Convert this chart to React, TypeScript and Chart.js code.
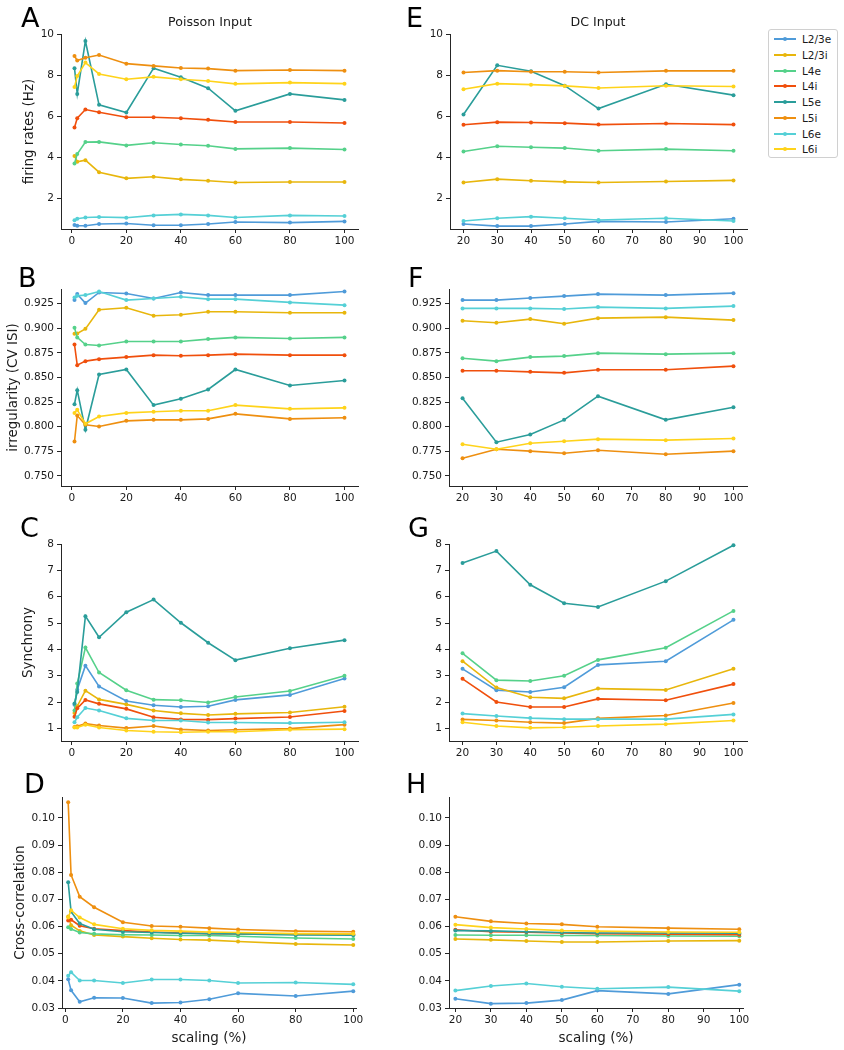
import React, { useEffect, useRef } from "react";
import { Chart, registerables } from "chart.js";

Chart.register(...registerables);
Chart.defaults.font.family = "'DejaVu Sans', sans-serif";

const POPULATIONS = ["L2/3e", "L2/3i", "L4e", "L4i", "L5e", "L5i", "L6e", "L6i"];
const COLORS = ["#4f9bd9", "#e8b60c", "#55d18a", "#f04f0c", "#2a9d9a", "#ee8f10", "#55d0d6", "#ffd31a"];

const SCALING_POISSON = [1, 2, 5, 10, 20, 30, 40, 50, 60, 80, 100];
const SCALING_DC = [20, 30, 40, 50, 60, 80, 100];

const X_TICKS_POISSON = [0, 20, 40, 60, 80, 100];
const X_TICKS_DC = [20, 30, 40, 50, 60, 70, 80, 90, 100];
const Y_TICKS_RATE = [2, 4, 6, 8, 10];
const Y_TICKS_CV = [0.75, 0.775, 0.8, 0.825, 0.85, 0.875, 0.9, 0.925];
const Y_TICKS_SYNC = [1, 2, 3, 4, 5, 6, 7, 8];
const Y_TICKS_CC = [0.03, 0.04, 0.05, 0.06, 0.07, 0.08, 0.09, 0.1];

// rows follow POPULATIONS order
const RATE_POISSON = [
  [0.72, 0.69, 0.69, 0.77, 0.8, 0.71, 0.71, 0.77, 0.87, 0.84, 0.9],
  [4.08, 3.79, 3.87, 3.29, 2.99, 3.07, 2.94, 2.87, 2.79, 2.81, 2.81],
  [3.71, 4.17, 4.75, 4.76, 4.59, 4.72, 4.63, 4.57, 4.42, 4.46, 4.39],
  [5.46, 5.91, 6.33, 6.2, 5.96, 5.96, 5.91, 5.83, 5.73, 5.73, 5.68],
  [8.34, 7.09, 9.66, 6.56, 6.19, 8.34, 7.9, 7.37, 6.27, 7.09, 6.8],
  [8.93, 8.71, 8.85, 8.98, 8.56, 8.45, 8.35, 8.32, 8.22, 8.25, 8.22],
  [0.95, 1.03, 1.09, 1.11, 1.08, 1.19, 1.24, 1.19, 1.09, 1.19, 1.16],
  [7.43, 7.96, 8.61, 8.06, 7.8, 7.92, 7.8, 7.72, 7.58, 7.64, 7.59],
];
const RATE_DC = [
  [0.77, 0.67, 0.67, 0.77, 0.9, 0.87, 1.03],
  [2.79, 2.95, 2.87, 2.82, 2.79, 2.84, 2.89],
  [4.29, 4.55, 4.5, 4.46, 4.33, 4.41, 4.33],
  [5.59, 5.72, 5.7, 5.67, 5.6, 5.65, 5.6],
  [6.09, 8.48, 8.19, 7.49, 6.38, 7.56, 7.03],
  [8.13, 8.22, 8.17, 8.17, 8.13, 8.21, 8.21],
  [0.92, 1.05, 1.13, 1.05, 0.97, 1.05, 0.92],
  [7.32, 7.59, 7.54, 7.48, 7.38, 7.49, 7.45],
];
const CV_POISSON = [
  [0.9287, 0.9348, 0.9257, 0.9365, 0.9355, 0.9304, 0.9365, 0.9338, 0.9338, 0.9338, 0.9375],
  [0.8945, 0.8948, 0.8995, 0.9189, 0.9209, 0.9128, 0.9138, 0.9169, 0.9169, 0.9158, 0.9158],
  [0.9006, 0.8908, 0.8836, 0.8826, 0.8867, 0.8867, 0.8867, 0.8891, 0.8908, 0.8897, 0.8908],
  [0.8836, 0.8626, 0.8667, 0.8687, 0.8708, 0.8728, 0.8721, 0.8728, 0.8738, 0.8728, 0.8728],
  [0.823, 0.8372, 0.7969, 0.8531, 0.8582, 0.822, 0.8284, 0.8379, 0.8582, 0.842, 0.847],
  [0.785, 0.8114, 0.802, 0.8003, 0.806, 0.807, 0.807, 0.808, 0.8131, 0.808, 0.8091],
  [0.9314, 0.9331, 0.9338, 0.9375, 0.9287, 0.9304, 0.9321, 0.9297, 0.9297, 0.9264, 0.9236],
  [0.8141, 0.8172, 0.803, 0.8104, 0.8141, 0.8152, 0.8162, 0.8162, 0.822, 0.8182, 0.8192],
];
const CV_DC = [
  [0.9287, 0.9287, 0.9308, 0.9328, 0.9348, 0.9338, 0.9358],
  [0.9077, 0.9057, 0.9094, 0.9047, 0.9104, 0.9114, 0.9084],
  [0.8697, 0.8667, 0.8708, 0.8718, 0.8748, 0.8738, 0.8748],
  [0.8569, 0.8569, 0.8558, 0.8548, 0.8579, 0.8579, 0.8616],
  [0.829, 0.7843, 0.7921, 0.807, 0.8311, 0.807, 0.8199],
  [0.768, 0.7772, 0.7752, 0.7731, 0.7762, 0.7721, 0.7752],
  [0.9203, 0.9203, 0.9203, 0.9196, 0.9216, 0.9203, 0.9226],
  [0.7823, 0.7772, 0.7833, 0.7853, 0.7874, 0.7864, 0.788],
];
const SYNC_POISSON = [
  [1.9, 2.47, 3.38, 2.59, 2.04, 1.88, 1.81, 1.84, 2.08, 2.27, 2.89],
  [1.58, 1.84, 2.43, 2.1, 1.91, 1.68, 1.57, 1.51, 1.55, 1.6, 1.82],
  [1.68, 2.7, 4.07, 3.12, 2.45, 2.09, 2.07, 1.98, 2.19, 2.42, 3.0],
  [1.44, 1.76, 2.08, 1.93, 1.74, 1.42, 1.34, 1.33, 1.37, 1.43, 1.66],
  [1.94, 2.38, 5.26, 4.46, 5.41, 5.89, 5.01, 4.25, 3.59, 4.04, 4.35],
  [1.05, 1.08, 1.18, 1.11, 1.01, 1.09, 0.96, 0.92, 0.95, 0.99, 1.14],
  [1.23, 1.42, 1.77, 1.68, 1.38, 1.3, 1.3, 1.22, 1.22, 1.2, 1.23],
  [1.03, 1.03, 1.14, 1.03, 0.92, 0.87, 0.85, 0.87, 0.87, 0.95, 0.97],
];
const SYNC_DC = [
  [3.26, 2.45, 2.38, 2.56, 3.41, 3.55, 5.12],
  [3.55, 2.55, 2.18, 2.14, 2.51, 2.46, 3.26],
  [3.85, 2.83, 2.8, 3.0, 3.6, 4.06, 5.46],
  [2.88, 2.0, 1.81, 1.81, 2.12, 2.07, 2.68],
  [7.28, 7.73, 6.45, 5.75, 5.61, 6.59, 7.95],
  [1.34, 1.3, 1.23, 1.2, 1.38, 1.49, 1.96],
  [1.56, 1.47, 1.39, 1.35, 1.35, 1.35, 1.53],
  [1.23, 1.09, 1.02, 1.04, 1.09, 1.16, 1.3],
];
const CC_POISSON = [
  [0.0406, 0.0365, 0.0323, 0.0338, 0.0337, 0.0318, 0.032, 0.0332, 0.0354, 0.0344, 0.0362],
  [0.0637, 0.0605, 0.0584, 0.0569, 0.0563, 0.0557, 0.0552, 0.055, 0.0545, 0.0536, 0.0532],
  [0.0597, 0.0591, 0.0578, 0.0573, 0.057, 0.0569, 0.0567, 0.0567, 0.0564, 0.0558, 0.0554],
  [0.0622, 0.0625, 0.0603, 0.0592, 0.0585, 0.058, 0.0576, 0.0574, 0.0573, 0.0572, 0.0572],
  [0.0763, 0.0655, 0.0611, 0.059, 0.0581, 0.0578, 0.0575, 0.0574, 0.0573, 0.0569, 0.0568],
  [0.1058, 0.079, 0.071, 0.0671, 0.0616, 0.0602, 0.0599, 0.0594, 0.0589, 0.0583, 0.0581],
  [0.0419, 0.0432, 0.0401, 0.0401, 0.0392, 0.0405, 0.0405, 0.0401, 0.0392, 0.0394, 0.0387],
  [0.0633, 0.066, 0.0633, 0.0608, 0.0592, 0.0586, 0.0583, 0.058, 0.0578, 0.0574, 0.0573],
];
const CC_DC = [
  [0.0334, 0.0316, 0.0318, 0.0329, 0.0364, 0.0352, 0.0386],
  [0.0554, 0.0551, 0.0547, 0.0543, 0.0543, 0.0547, 0.0548],
  [0.0569, 0.0568, 0.0568, 0.0567, 0.0567, 0.0565, 0.0564],
  [0.0588, 0.0581, 0.0579, 0.0576, 0.0574, 0.0572, 0.057],
  [0.0585, 0.0584, 0.0581, 0.0578, 0.0576, 0.0576, 0.0575],
  [0.0636, 0.0619, 0.0611, 0.0608, 0.0599, 0.0594, 0.059],
  [0.0364, 0.0381, 0.039, 0.0378, 0.0371, 0.0377, 0.0362],
  [0.0607, 0.0596, 0.0591, 0.0585, 0.0583, 0.058, 0.0579],
];

const AXIS_COLOR = "#262626";
const TEXT_COLOR = "#1a1a1a";

type Box = { l: number; t: number; r: number; b: number };
type PanelSpec = {
  canvas: Box;
  area: Box;
  xs: number[];
  series: number[][];
  xRange: [number, number];
  yRange: [number, number];
  xTicks: number[];
  yTicks: number[];
  yDigits: number;
  yTitle?: string;
  yTitlePad?: number;
  xTitle?: string;
  xTitlePad?: number;
};

function Panel({ spec }: { spec: PanelSpec }) {
  const ref = useRef<HTMLCanvasElement>(null);
  const w = spec.canvas.r - spec.canvas.l;
  const h = spec.canvas.b - spec.canvas.t;
  useEffect(() => {
    const { canvas, area } = spec;
    const tickFont = { size: 10.5, family: "'DejaVu Sans', sans-serif" };
    const titleFont = { size: 13.5, family: "'DejaVu Sans', sans-serif" };
    const chart = new Chart(ref.current as HTMLCanvasElement, {
      type: "line",
      data: {
        datasets: spec.series.map((vals, i) => ({
          label: POPULATIONS[i],
          data: vals.map((v, j) => ({ x: spec.xs[j], y: v })),
          borderColor: COLORS[i],
          backgroundColor: COLORS[i],
          borderWidth: 1.6,
          pointRadius: 2,
          pointBorderWidth: 0,
          pointHoverRadius: 2,
          fill: false,
          tension: 0,
          clip: false as any,
          order: POPULATIONS.length - i,
        })),
      },
      options: {
        animation: false,
        responsive: false,
        maintainAspectRatio: false,
        events: [],
        layout: {
          padding: {
            left: 0,
            top: area.t - canvas.t,
            right: canvas.r - area.r,
            bottom: 0,
          },
        },
        plugins: {
          legend: { display: false },
          tooltip: { enabled: false },
          title: { display: false },
        },
        scales: {
          x: {
            type: "linear",
            min: spec.xRange[0],
            max: spec.xRange[1],
            afterBuildTicks: (s: any) => {
              s.ticks = spec.xTicks.map((v) => ({ value: v }));
            },
            afterFit: (s: any) => {
              s.height = canvas.b - area.b;
            },
            grid: {
              display: true,
              drawOnChartArea: false,
              drawTicks: true,
              tickLength: 4,
              color: AXIS_COLOR,
              lineWidth: 1,
            },
            border: { display: true, color: AXIS_COLOR, width: 1 },
            ticks: {
              autoSkip: false,
              maxRotation: 0,
              minRotation: 0,
              padding: 2,
              color: TEXT_COLOR,
              font: tickFont,
              callback: (v: any) => String(Number(v)),
            },
            title: spec.xTitle
              ? {
                  display: true,
                  text: spec.xTitle,
                  color: TEXT_COLOR,
                  font: titleFont,
                  padding: { top: 0, bottom: spec.xTitlePad ?? 0 },
                }
              : { display: false },
          },
          y: {
            type: "linear",
            min: spec.yRange[0],
            max: spec.yRange[1],
            afterBuildTicks: (s: any) => {
              s.ticks = spec.yTicks.map((v) => ({ value: v }));
            },
            afterFit: (s: any) => {
              s.width = area.l - canvas.l;
            },
            grid: {
              display: true,
              drawOnChartArea: false,
              drawTicks: true,
              tickLength: 4,
              color: AXIS_COLOR,
              lineWidth: 1,
            },
            border: { display: true, color: AXIS_COLOR, width: 1 },
            ticks: {
              autoSkip: false,
              padding: 3,
              color: TEXT_COLOR,
              font: tickFont,
              callback: (v: any) => Number(v).toFixed(spec.yDigits),
            },
            title: spec.yTitle
              ? {
                  display: true,
                  text: spec.yTitle,
                  color: TEXT_COLOR,
                  font: titleFont,
                  padding: { top: spec.yTitlePad ?? 0, bottom: 0 },
                }
              : { display: false },
          },
        },
      } as any,
    });
    return () => chart.destroy();
  }, [spec]);
  return (
    <canvas
      ref={ref}
      width={w}
      height={h}
      style={{ position: "absolute", left: spec.canvas.l, top: spec.canvas.t, width: w, height: h }}
    />
  );
}

const LEFT_X = 0;
const LEFT_W = 400;
const RIGHT_X = 400;
const RIGHT_W = 360;

const PANELS: PanelSpec[] = [
  // A
  {
    canvas: { l: LEFT_X, t: 24, r: LEFT_X + LEFT_W, b: 260 },
    area: { l: 61, t: 34, r: 358, b: 229 },
    xs: SCALING_POISSON, series: RATE_POISSON,
    xRange: [-3.95, 104.95], yRange: [0.53, 10],
    xTicks: X_TICKS_POISSON, yTicks: Y_TICKS_RATE, yDigits: 0,
    yTitle: "firing rates (Hz)", yTitlePad: 21,
  },
  // E
  {
    canvas: { l: RIGHT_X, t: 24, r: RIGHT_X + RIGHT_W, b: 260 },
    area: { l: 450, t: 34, r: 747, b: 229 },
    xs: SCALING_DC, series: RATE_DC,
    xRange: [16, 104], yRange: [0.53, 10],
    xTicks: X_TICKS_DC, yTicks: Y_TICKS_RATE, yDigits: 0,
  },
  // B
  {
    canvas: { l: LEFT_X, t: 279, r: LEFT_X + LEFT_W, b: 515 },
    area: { l: 61, t: 289, r: 358, b: 486 },
    xs: SCALING_POISSON, series: CV_POISSON,
    xRange: [-3.95, 104.95], yRange: [0.7398, 0.94],
    xTicks: X_TICKS_POISSON, yTicks: Y_TICKS_CV, yDigits: 3,
    yTitle: "irregularity (CV ISI)", yTitlePad: 5.6,
  },
  // F
  {
    canvas: { l: RIGHT_X, t: 279, r: RIGHT_X + RIGHT_W, b: 515 },
    area: { l: 449, t: 289, r: 747, b: 486 },
    xs: SCALING_DC, series: CV_DC,
    xRange: [16, 104], yRange: [0.7398, 0.94],
    xTicks: X_TICKS_DC, yTicks: Y_TICKS_CV, yDigits: 3,
  },
  // C
  {
    canvas: { l: LEFT_X, t: 534, r: LEFT_X + LEFT_W, b: 770 },
    area: { l: 61, t: 544, r: 358, b: 741 },
    xs: SCALING_POISSON, series: SYNC_POISSON,
    xRange: [-3.95, 104.95], yRange: [0.52, 8],
    xTicks: X_TICKS_POISSON, yTicks: Y_TICKS_SYNC, yDigits: 0,
    yTitle: "Synchrony", yTitlePad: 20,
  },
  // G
  {
    canvas: { l: RIGHT_X, t: 534, r: RIGHT_X + RIGHT_W, b: 770 },
    area: { l: 449, t: 544, r: 747, b: 741 },
    xs: SCALING_DC, series: SYNC_DC,
    xRange: [16, 104], yRange: [0.52, 8],
    xTicks: X_TICKS_DC, yTicks: Y_TICKS_SYNC, yDigits: 0,
  },
  // D
  {
    canvas: { l: LEFT_X, t: 787, r: LEFT_X + LEFT_W, b: 1050 },
    area: { l: 62, t: 797, r: 356, b: 1008 },
    xs: SCALING_POISSON, series: CC_POISSON,
    xRange: [-1.15, 100.95], yRange: [0.03, 0.1077],
    xTicks: X_TICKS_POISSON, yTicks: Y_TICKS_CC, yDigits: 2,
    yTitle: "Cross-correlation", yTitlePad: 12.7,
    xTitle: "scaling (%)", xTitlePad: 3,
  },
  // H
  {
    canvas: { l: RIGHT_X, t: 787, r: RIGHT_X + RIGHT_W, b: 1050 },
    area: { l: 449, t: 797, r: 743, b: 1008 },
    xs: SCALING_DC, series: CC_DC,
    xRange: [18.2, 101.05], yRange: [0.03, 0.1077],
    xTicks: X_TICKS_DC, yTicks: Y_TICKS_CC, yDigits: 2,
    xTitle: "scaling (%)", xTitlePad: 3,
  },
];

const LETTERS: { t: string; x: number; y: number }[] = [
  { t: "A", x: 21, y: 4 },
  { t: "B", x: 18, y: 264 },
  { t: "C", x: 20, y: 514 },
  { t: "D", x: 24, y: 770 },
  { t: "E", x: 406, y: 4 },
  { t: "F", x: 408, y: 264 },
  { t: "G", x: 408, y: 514 },
  { t: "H", x: 406, y: 770 },
];

const FONT = "'DejaVu Sans', sans-serif";

export default function App() {
  return (
    <div
      style={{
        position: "absolute",
        left: 0,
        top: 0,
        width: 844,
        height: 1050,
        background: "#fff",
        overflow: "hidden",
        fontFamily: FONT,
        color: TEXT_COLOR,
      }}
    >
      {PANELS.map((p, i) => (
        <Panel key={i} spec={p} />
      ))}
      {LETTERS.map((l) => (
        <div
          key={l.t}
          style={{ position: "absolute", left: l.x, top: l.y, fontSize: 27, lineHeight: 1, fontFamily: FONT, color: "#000" }}
        >
          {l.t}
        </div>
      ))}
      <div style={{ position: "absolute", left: 110, width: 200, top: 16, textAlign: "center", fontSize: 12.6, lineHeight: 1 }}>
        Poisson Input
      </div>
      <div style={{ position: "absolute", left: 498, width: 200, top: 16, textAlign: "center", fontSize: 12.6, lineHeight: 1 }}>
        DC Input
      </div>
      <div
        style={{
          position: "absolute",
          left: 768,
          top: 29,
          width: 70,
          height: 129,
          boxSizing: "border-box",
          border: "1px solid #d0d0d0",
          borderRadius: 3,
          background: "#fff",
        }}
      >
        {POPULATIONS.map((name, i) => (
          <div key={name} style={{ position: "absolute", left: 0, top: 9.3 + i * 15.7 - 8, height: 16, width: 68 }}>
            <div style={{ position: "absolute", left: 5, top: 7, width: 22, height: 2, background: COLORS[i] }} />
            <div
              style={{
                position: "absolute",
                left: 14,
                top: 6,
                width: 4,
                height: 4,
                borderRadius: 2,
                background: COLORS[i],
              }}
            />
            <div style={{ position: "absolute", left: 33, top: 2, fontSize: 10.5, lineHeight: "12px", whiteSpace: "nowrap" }}>
              {name}
            </div>
          </div>
        ))}
      </div>
    </div>
  );
}
